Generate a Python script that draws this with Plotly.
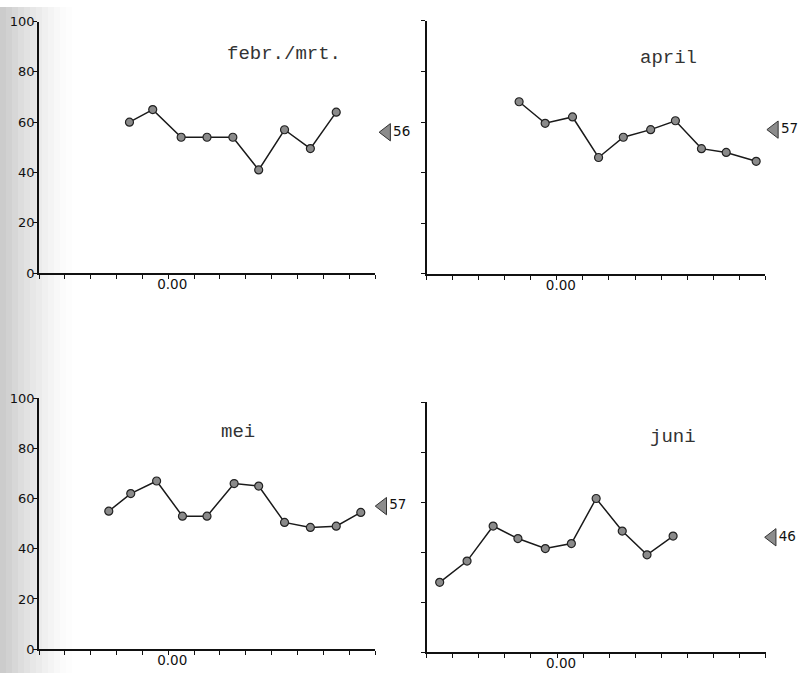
import plotly.graph_objects as go

# Monthly series: x positions along the time axis and the measured percentages
feb_x = [-1.5, -0.6, 0.5, 1.5, 2.5, 3.5, 4.5, 5.5, 6.5]
feb_y = [60, 65, 54, 54, 54, 41, 57, 49.5, 64]

apr_x = [-1.45, -0.45, 0.6, 1.6, 2.55, 3.6, 4.55, 5.55, 6.5, 7.65]
apr_y = [68, 59.5, 62, 46, 54, 57, 60.5, 49.5, 48, 44.5]

mei_x = [-2.3, -1.45, -0.45, 0.55, 1.5, 2.55, 3.5, 4.5, 5.5, 6.5, 7.45]
mei_y = [55, 62, 67, 53, 53, 66, 65, 50.5, 48.5, 49, 54.5]

jun_x = [-4.5, -3.45, -2.45, -1.5, -0.45, 0.55, 1.5, 2.5, 3.45, 4.45]
jun_y = [28, 36.5, 50.5, 45.5, 41.5, 43.5, 61.5, 48.5, 39, 46.5]

# Mean per month, shown with an arrow at the right of each panel
month_names = ["febr./mrt.", "april", "mei", "juni"]
month_means = [56, 57, 57, 46]

x_ticks = list(range(-5, 9))
x_ticktext = ["0.00" if v == 0 else "" for v in x_ticks]
y_ticks = [0, 20, 40, 60, 80, 100]

series = [(feb_x, feb_y), (apr_x, apr_y), (mei_x, mei_y), (jun_x, jun_y)]

# Panel placement (paper fractions, 800x681 page)
W = 800
x_domains = [[0.04875, 0.46875], [0.5333, 0.9566], [0.04875, 0.46875], [0.5333, 0.9571]]
y_domains = [[0.6006, 0.978], [0.5991, 0.9794], [0.0358, 0.4126], [0.0308, 0.4068]]
title_pos = [(0.355, 0.9295), (0.836, 0.9236), (0.2975, 0.3612), (0.841, 0.3539)]
arrow_x = [8.45, 8.35, 8.3, 8.25]
EXT = 30  # extra pixels to the right of each panel for the mean arrow

fig = go.Figure()
layout = {}
for i, ((xs, ys), mean) in enumerate(zip(series, month_means)):
    n = "" if i == 0 else str(i + 1)
    xa, ya = "x" + n, "y" + n
    xe = "x" + str(i + 5)
    fig.add_trace(go.Scatter(
        x=xs, y=ys, xaxis=xa, yaxis=ya, mode="lines+markers",
        line=dict(color="#1a1a1a", width=1.5),
        marker=dict(size=8, color="#8a8a8a", line=dict(color="#222", width=1.2)),
        showlegend=False, hoverinfo="skip",
    ))
    # mean arrow and its value, on a wider hidden x-axis sharing the panel's y-axis
    fig.add_trace(go.Scatter(
        x=[arrow_x[i]], y=[mean], xaxis=xe, yaxis=ya, mode="markers",
        marker=dict(symbol="triangle-left", size=15, color="#8c8c8c",
                    line=dict(color="#333", width=1)),
        cliponaxis=False, showlegend=False, hoverinfo="skip",
    ))
    fig.add_trace(go.Scatter(
        x=[arrow_x[i] + 0.25], y=[mean], xaxis=xe, yaxis=ya, mode="text",
        text=[str(mean)], textposition="middle right",
        textfont=dict(family="DejaVu Sans", size=13.5, color="#111"),
        cliponaxis=False, showlegend=False, hoverinfo="skip",
    ))
    d0, d1 = x_domains[i]
    ppu = (d1 - d0) * W / 13.0
    d1e = min(1.0, d1 + EXT / W)
    ext_px = (d1e - d1) * W
    layout["xaxis" + str(i + 5)] = dict(
        domain=[d0, d1e], anchor=ya, range=[-5, 8 + ext_px / ppu],
        visible=False, showgrid=False, zeroline=False,
    )
    show_y_labels = i in (0, 2)
    layout["xaxis" + n] = dict(
        domain=x_domains[i], anchor=ya, range=[-5, 8],
        tickvals=x_ticks, ticktext=x_ticktext, ticks="outside", ticklen=4,
        tickwidth=1.2, tickcolor="#111", showline=True, linecolor="#111",
        linewidth=1.5, showgrid=False, zeroline=False,
        tickfont=dict(family="DejaVu Sans", size=13.5, color="#111"),
        ticklabelshift=4, ticklabelstandoff=-6,
    )
    layout["yaxis" + n] = dict(
        domain=y_domains[i], anchor=xa, range=[0, 100],
        tickvals=y_ticks, ticktext=[str(v) if show_y_labels else "" for v in y_ticks],
        ticks="outside", ticklen=4, tickwidth=1.2, tickcolor="#111",
        showline=True, linecolor="#111", linewidth=1.5, showgrid=False,
        zeroline=False, ticklabelstandoff=-4,
        tickfont=dict(family="DejaVu Sans", size=13, color="#111"),
    )
    fig.add_annotation(
        x=title_pos[i][0], y=title_pos[i][1], xref="paper", yref="paper",
        text=month_names[i], showarrow=False, xanchor="center", yanchor="middle",
        font=dict(family="Liberation Mono", size=19, color="#333"),
    )

# Grey stippled band along the left page edge, fading towards the right
band = []
steps = 12
for k in range(steps):
    x0 = k * 6 / W
    x1 = (k + 1) * 6 / W
    alpha = 0.38 * (1 - k / steps) ** 1.4
    band.append(dict(type="rect", xref="paper", yref="paper", x0=x0, x1=x1,
                     y0=0, y1=1, fillcolor=f"rgba(120,120,120,{alpha:.3f})",
                     line=dict(width=0), layer="below"))

fig.update_layout(
    width=800, height=681, margin=dict(l=0, r=0, t=0, b=0),
    paper_bgcolor="white", plot_bgcolor="rgba(0,0,0,0)",
    shapes=band, **layout,
)

fig.write_html("out.html")
